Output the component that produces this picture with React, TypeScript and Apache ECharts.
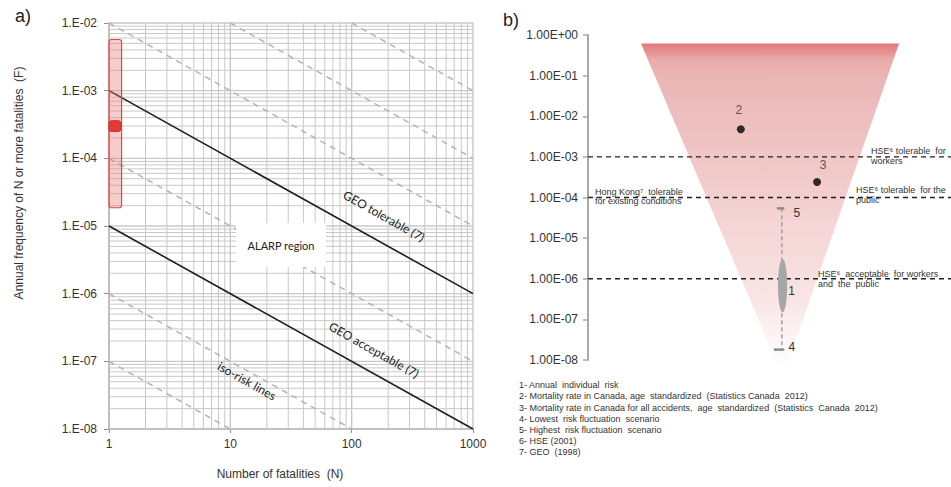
import React, { useEffect, useRef } from 'react';
import * as echarts from 'echarts';

// ---------- Panel a data ----------
const fatalityTicks = [1, 10, 100, 1000];
const geoTolerable = [[1, 1e-3], [1000, 1e-6]];
const geoAcceptable = [[1, 1e-5], [1000, 1e-8]];
const isoRiskLines = [
  [[100, 1e-2], [1000, 1e-3]],
  [[10, 1e-2], [1000, 1e-4]],
  [[1, 1e-2], [1000, 1e-5]],
  [[1, 1e-4], [1000, 1e-7]],
  [[1, 1e-6], [100, 1e-8]],
  [[1, 1e-7], [10, 1e-8]],
];
// [N from, N to, F low, F high]
const riskBand = [1, 1.27, 1.86e-5, 5.7e-3];
const riskBandCore = [1, 1.25, 2.5e-4, 3.6e-4];

// grid lines (log minor divisions)
const xGridLines = [1, 2, 3, 4, 5, 6, 7, 8, 9, 10, 20, 30, 40, 50, 60, 70, 80, 90, 100, 200, 300, 400, 500, 600, 700, 800, 900, 1000];
const yDecades = [1e-8, 1e-7, 1e-6, 1e-5, 1e-4, 1e-3];
const minorSteps = [1, 2, 3, 4, 5, 6, 7, 8, 9];

// ---------- Panel b data ----------
const triangleX = [14.6, 85.7, 53.7];
const triangleRisk = [0.62, 0.62, 3.8e-9];
const thresholds = [1e-3, 1e-4, 1e-6];
const pointLabels = ['2', '3'];
const pointX = [42.1, 63.1];
const pointRisk = [4.8e-3, 2.4e-4];
const fluctX = 53.4;
const fluctHigh = 5.4e-5; // scenario 5
const fluctLow = 1.8e-8; // scenario 4
const annualX = 53.6;
const annualHigh = 3e-6;
const annualLow = 1.5e-7;

const legendLines = [
  '1- Annual  individual  risk',
  '2- Mortality rate in Canada, age  standardized  (Statistics Canada  2012)',
  '3- Mortality rate in Canada for all accidents,  age  standardized  (Statistics  Canada  2012)',
  '4- Lowest  risk fluctuation  scenario',
  '5- Highest  risk fluctuation  scenario',
  '6- HSE (2001)',
  '7- GEO  (1998)',
];

const FONT = 'Liberation Sans, Arial, sans-serif';
const CAL = 'Lato, Liberation Sans, sans-serif';

function expOf(v: number) {
  return Math.round(Math.log10(v));
}

function buildOption(): any {
  const yGridLines: number[] = [];
  yDecades.forEach((d) => minorSteps.forEach((m) => yGridLines.push(d * m)));
  yGridLines.push(1e-2);

  const series: any[] = [];

  // grid lines of panel a, drawn through the axes' scales
  series.push({
    type: 'custom',
    xAxisIndex: 0,
    yAxisIndex: 0,
    z: 1,
    silent: true,
    data: [[1, 1e-8]],
    renderItem: (params: any, api: any) => {
      const children: any[] = [];
      xGridLines.forEach((v) => {
        const a = api.coord([v, 1e-8]);
        const b = api.coord([v, 1e-2]);
        const major = fatalityTicks.includes(v);
        children.push({
          type: 'line',
          shape: { x1: a[0], y1: a[1], x2: b[0], y2: b[1] },
          style: { stroke: '#c8c8c8', lineWidth: major ? 1.4 : 1 },
        });
      });
      yGridLines.forEach((v) => {
        const a = api.coord([1, v]);
        const b = api.coord([1000, v]);
        const lg = Math.log10(v);
        const major = Math.abs(lg - Math.round(lg)) < 1e-6;
        children.push({
          type: 'line',
          shape: { x1: a[0], y1: a[1], x2: b[0], y2: b[1] },
          style: { stroke: '#c8c8c8', lineWidth: major ? 1.4 : 1 },
        });
      });
      return { type: 'group', children };
    },
  });

  isoRiskLines.forEach((d) => {
    series.push({
      type: 'line',
      xAxisIndex: 0,
      yAxisIndex: 0,
      data: d,
      symbol: 'none',
      silent: true,
      z: 2,
      lineStyle: { color: '#b4b4b4', width: 1.5, type: [6, 5] },
    });
  });

  [geoTolerable, geoAcceptable].forEach((d) => {
    series.push({
      type: 'line',
      xAxisIndex: 0,
      yAxisIndex: 0,
      data: d,
      symbol: 'none',
      silent: true,
      z: 3,
      lineStyle: { color: '#1e1e1e', width: 1.6 },
    });
  });

  series.push({
    type: 'custom',
    xAxisIndex: 0,
    yAxisIndex: 0,
    z: 4,
    silent: true,
    data: [riskBand, riskBandCore],
    renderItem: (params: any, api: any) => {
      const p1 = api.coord([api.value(0), api.value(3)]);
      const p2 = api.coord([api.value(1), api.value(2)]);
      const core = params.dataIndex === 1;
      return {
        type: 'rect',
        shape: { x: p1[0], y: p1[1], width: p2[0] - p1[0], height: p2[1] - p1[1], r: 2.5 },
        style: core
          ? { fill: '#e33a3a', stroke: '#d42a2a', lineWidth: 1 }
          : { fill: 'rgba(236,120,120,0.38)', stroke: '#e04848', lineWidth: 1.2 },
      };
    },
  });

  // ---------- panel b ----------
  series.push({
    type: 'custom',
    xAxisIndex: 1,
    yAxisIndex: 1,
    z: 1,
    clip: false,
    silent: true,
    data: triangleX.map((x, i) => [x, triangleRisk[i]]),
    renderItem: (params: any, api: any) => {
      if (params.dataIndex !== 0) return null;
      const pts = triangleX.map((x, i) => api.coord([x, triangleRisk[i]]));
      return {
        type: 'polygon',
        shape: { points: pts },
        style: {
          fill: new echarts.graphic.LinearGradient(0, 0, 0, 1, [
            { offset: 0, color: '#e27878' },
            { offset: 0.05, color: '#e9abab' },
            { offset: 0.1, color: '#ebb5b5' },
            { offset: 0.47, color: '#f3cfcf' },
            { offset: 0.77, color: '#f9e5e5' },
            { offset: 0.97, color: '#ffffff' },
          ]),
        },
      };
    },
  });

  thresholds.forEach((t) => {
    series.push({
      type: 'line',
      xAxisIndex: 1,
      yAxisIndex: 1,
      data: [[0, t], [100, t]],
      symbol: 'none',
      silent: true,
      z: 3,
      lineStyle: { color: '#222', width: 1.3, type: [5, 4] },
    });
  });

  series.push({
    type: 'custom',
    xAxisIndex: 1,
    yAxisIndex: 1,
    z: 4,
    silent: true,
    data: [[fluctX, fluctHigh, fluctLow]],
    renderItem: (params: any, api: any) => {
      const top = api.coord([api.value(0), api.value(1)]);
      const bot = api.coord([api.value(0), api.value(2)]);
      return {
        type: 'group',
        children: [
          { type: 'line', shape: { x1: top[0], y1: top[1], x2: bot[0], y2: bot[1] }, style: { stroke: '#a0a0a0', lineWidth: 1.5, lineDash: [4, 3] } },
          { type: 'line', shape: { x1: top[0] - 5, y1: top[1], x2: top[0] + 2.5, y2: top[1] }, style: { stroke: '#8c8c8c', lineWidth: 2.5 } },
          { type: 'line', shape: { x1: bot[0] - 8, y1: bot[1], x2: bot[0] + 2.5, y2: bot[1] }, style: { stroke: '#8c8c8c', lineWidth: 2.5 } },
          { type: 'text', x: top[0] + 15, y: top[1] + 5, style: { text: '5', font: '12px ' + FONT, fill: '#333', align: 'center', verticalAlign: 'middle' } },
          { type: 'text', x: bot[0] + 10, y: bot[1] - 3, style: { text: '4', font: '12px ' + FONT, fill: '#333', align: 'center', verticalAlign: 'middle' } },
        ],
      };
    },
  });

  series.push({
    type: 'custom',
    xAxisIndex: 1,
    yAxisIndex: 1,
    z: 5,
    silent: true,
    data: [[annualX, annualHigh, annualLow]],
    renderItem: (params: any, api: any) => {
      const top = api.coord([api.value(0), api.value(1)]);
      const bot = api.coord([api.value(0), api.value(2)]);
      const cy = (top[1] + bot[1]) / 2;
      return {
        type: 'group',
        children: [
          { type: 'ellipse', shape: { cx: top[0], cy, rx: 4.6, ry: (bot[1] - top[1]) / 2 }, style: { fill: '#a6a6a6' } },
          { type: 'text', x: top[0] + 9, y: cy + 5, style: { text: '1', font: '12px ' + FONT, fill: '#333', align: 'center', verticalAlign: 'middle' } },
        ],
      };
    },
  });

  series.push({
    type: 'scatter',
    xAxisIndex: 1,
    yAxisIndex: 1,
    z: 6,
    silent: true,
    symbolSize: 8,
    itemStyle: { color: '#000' },
    data: pointX.map((x, i) => ({
      value: [x, pointRisk[i]],
      name: pointLabels[i],
      label: i === 0 ? { offset: [-2, 0], distance: 9 } : { offset: [6, 0], distance: 7 },
    })),
    label: {
      show: true,
      position: 'top',
      formatter: (p: any) => p.name,
      fontFamily: FONT,
      fontSize: 12,
      color: '#333',
    },
  });

  const textBase = (x: number, y: number, text: string, size: number, extra: any = {}) => ({
    type: 'text',
    x,
    y,
    z: 20,
    silent: true,
    style: { text, font: `${size}px ${FONT}`, fill: '#333', align: 'left', verticalAlign: 'top', ...extra },
  });

  const graphic: any[] = [
    { type: 'text', x: 23, y: 16, z: 20, style: { text: 'a)', font: '18px ' + FONT, fill: '#222', align: 'center', verticalAlign: 'middle' } },
    { type: 'text', x: 511, y: 20, z: 20, style: { text: 'b)', font: '18px ' + FONT, fill: '#222', align: 'center', verticalAlign: 'middle' } },
    {
      type: 'text', x: 18.5, y: 183, rotation: Math.PI / 2, z: 20,
      style: { text: 'Annual frequency of N or more fatalities  (F)', font: '12px ' + FONT, fill: '#333', align: 'center', verticalAlign: 'middle' },
    },
    { type: 'text', x: 280, y: 474, z: 20, style: { text: 'Number of fatalities  (N)', font: '12px ' + FONT, fill: '#333', align: 'center', verticalAlign: 'middle' } },
    { type: 'rect', z: 15, silent: true, shape: { x: 236, y: 223, width: 90, height: 44 }, style: { fill: '#ffffff' } },
    { type: 'text', x: 281, y: 245, z: 20, style: { text: 'ALARP region', font: '11px ' + CAL, fill: '#222', align: 'center', verticalAlign: 'middle' } },
    { type: 'text', x: 384, y: 216, z: 20, rotation: -0.51, style: { text: 'GEO tolerable (7)', font: '12px ' + CAL, fill: '#222', align: 'center', verticalAlign: 'middle' } },
    { type: 'text', x: 374, y: 350, z: 20, rotation: -0.51, style: { text: 'GEO acceptable (7)', font: '12px ' + CAL, fill: '#222', align: 'center', verticalAlign: 'middle' } },
    { type: 'text', x: 247, y: 381, z: 20, rotation: -0.51, style: { text: 'iso-risk lines', font: '12px ' + CAL, fill: '#222', align: 'center', verticalAlign: 'middle' } },
    textBase(871, 145.5, 'HSE⁶ tolerable  for\nworkers', 9, { lineHeight: 10 }),
    textBase(856, 185, 'HSE⁶ tolerable  for the\npublic', 9, { lineHeight: 10 }),
    textBase(595, 187, 'Hong Kong⁷  tolerable\nfor existing conditions', 9, { lineHeight: 9.5 }),
    textBase(818, 269, 'HSE⁶  acceptable  for workers\nand  the  public', 9, { lineHeight: 10 }),
    textBase(519, 379.6, legendLines.join('\n'), 9, { lineHeight: 11.2 }),
  ];

  return {
    animation: false,
    backgroundColor: '#ffffff',
    grid: [
      { left: 109, top: 23, width: 364, height: 406 },
      { left: 588, top: 35, width: 363, height: 325 },
    ],
    xAxis: [
      {
        type: 'log',
        gridIndex: 0,
        logBase: 10,
        min: 1,
        max: 1000,
        axisLine: { show: true, lineStyle: { color: '#8c8c8c', width: 1.5 } },
        axisTick: { show: true, length: 4, lineStyle: { color: '#8c8c8c' } },
        axisLabel: {
          margin: 9,
          fontFamily: FONT,
          fontSize: 12,
          color: '#333',
          formatter: (v: number) => String(fatalityTicks.find((t) => Math.abs(t - v) / t < 1e-6) ?? Math.round(v)),
        },
        splitLine: { show: false },
        minorTick: { show: false },
      },
      { type: 'value', gridIndex: 1, min: 0, max: 100, show: false },
    ],
    yAxis: [
      {
        type: 'log',
        gridIndex: 0,
        logBase: 10,
        min: 1e-8,
        max: 1e-2,
        axisLine: { show: true, lineStyle: { color: '#8c8c8c', width: 1.5 } },
        axisTick: { show: true, length: 5, lineStyle: { color: '#8c8c8c' } },
        axisLabel: {
          margin: 12,
          fontFamily: FONT,
          fontSize: 12,
          color: '#333',
          formatter: (v: number) => {
            const e = expOf(v);
            return '1.E-' + String(Math.abs(e)).padStart(2, '0');
          },
        },
        splitLine: { show: false },
      },
      {
        type: 'log',
        gridIndex: 1,
        logBase: 10,
        min: 1e-8,
        max: 1,
        axisLine: { show: true, lineStyle: { color: '#a8a8a8', width: 2 } },
        axisTick: { show: true, length: 5, lineStyle: { color: '#a8a8a8', width: 1.5 } },
        axisLabel: {
          margin: 10,
          fontFamily: FONT,
          fontSize: 12,
          color: '#333',
          formatter: (v: number) => {
            const e = expOf(v);
            return '1.00E' + (e >= 0 ? '+' : '-') + String(Math.abs(e)).padStart(2, '0');
          },
        },
        splitLine: { show: false },
      },
    ],
    series,
    graphic,
  };
}

export default function App() {
  const ref = useRef<HTMLDivElement>(null);
  useEffect(() => {
    document.body.style.margin = '0';
    const chart = echarts.init(ref.current!, null, { renderer: 'svg' });
    chart.setOption(buildOption());
    return () => chart.dispose();
  }, []);
  return <div ref={ref} style={{ width: 951, height: 487 }} />;
}
